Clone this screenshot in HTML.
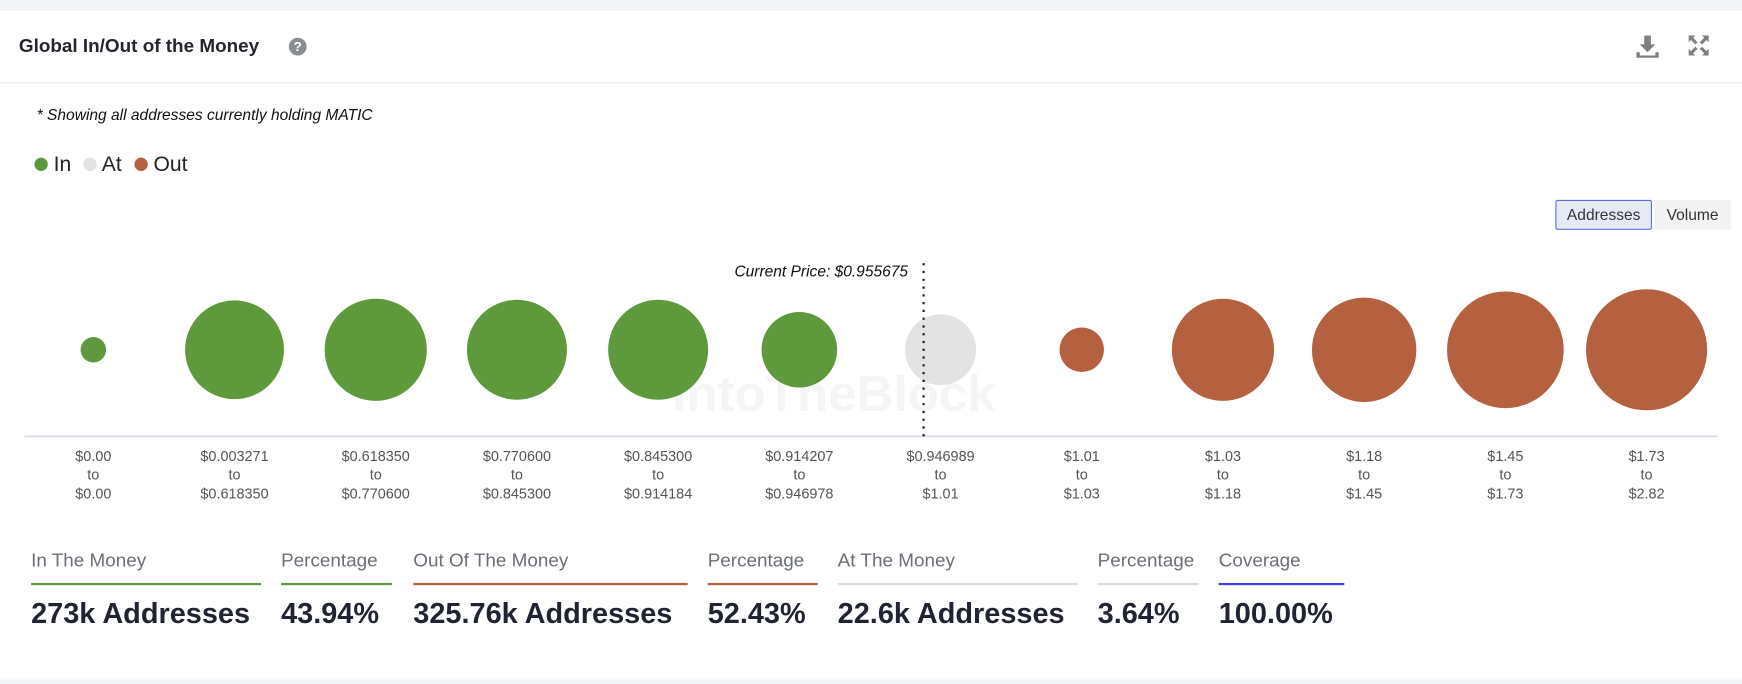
<!DOCTYPE html>
<html><head><meta charset="utf-8"><style>
html,body{margin:0;padding:0;width:1742px;height:684px;overflow:hidden;background:#f4f5f9;font-family:"Liberation Sans",sans-serif}
#wrap{position:absolute;left:0;top:0;width:1568px;height:616px;transform:scale(1.11097,1.11039);transform-origin:0 0}
.card{position:absolute;left:0;top:10px;width:1568px;height:602px;background:#fff}
.abs{position:absolute;white-space:nowrap}
.lbl{font-size:17px;color:#6b6f76}
.val{font-size:26px;color:#1f2430;font-weight:bold}
.ul{position:absolute;height:2px;top:525px}
</style></head><body>
<div id="wrap">
<div class="card"></div>
<div class="abs" style="left:17px;top:32px;font-size:17px;font-weight:bold;color:#23262d">Global In/Out of the Money</div>
<div class="abs" style="left:260px;top:34px;width:16px;height:16px;border-radius:50%;background:#8a8d93;color:#fff;font-size:12px;font-weight:bold;text-align:center;line-height:16px">?</div>
<svg class="abs" style="left:1472px;top:31px" width="22" height="22" viewBox="0 0 22 22"><path d="M8 1h6v8h4l-7 7-7-7h4z M1 16h3v3h14v-3h3v5H1z" fill="#7d7f84"/></svg>
<svg class="abs" style="left:1519px;top:31px" width="20" height="20" viewBox="0 0 20 20"><path d="M1 1h6L5 3l4 4-2 2-4-4-2 2z M19 1v6l-2-2-4 4-2-2 4-4-2-2z M1 19v-6l2 2 4-4 2 2-4 4 2 2z M19 19h-6l2-2-4-4 2-2 4 4 2-2z" fill="#7d7f84"/></svg>
<div class="abs" style="left:0;top:74px;width:1568px;height:1px;background:#e8e9ec"></div>
<div class="abs" style="left:33px;top:95px;font-size:14px;font-style:italic;color:#111">* Showing all addresses currently holding MATIC</div>
<div class="abs" style="left:31px;top:138px;font-size:19px;color:#222">
<span><span style="display:inline-block;width:12px;height:12px;border-radius:50%;background:#5e9a3c"></span> In</span>
<span style="margin-left:6px"><span style="display:inline-block;width:12px;height:12px;border-radius:50%;background:#e3e3e3"></span> At</span>
<span style="margin-left:6px"><span style="display:inline-block;width:12px;height:12px;border-radius:50%;background:#b5613f"></span> Out</span>
</div>
<div class="abs" style="left:1400px;top:180px;width:85px;height:25px;border:1px solid #5b6ee0;border-radius:2px;background:#e6e9f6;font-size:14px;color:#333;text-align:center;line-height:25px">Addresses</div>
<div class="abs" style="left:1489px;top:180px;width:69px;height:27px;background:#f3f3f3;font-size:14px;color:#333;text-align:center;line-height:27px">Volume</div>
<svg class="abs" id="chart" style="left:0;top:220px" width="1568" height="240"></svg>
<div id="stats"></div>
</div>
<script>
const categories=[["$0.00","$0.00"],["$0.003271","$0.618350"],["$0.618350","$0.770600"],["$0.770600","$0.845300"],["$0.845300","$0.914184"],["$0.914207","$0.946978"],["$0.946989","$1.01"],["$1.01","$1.03"],["$1.03","$1.18"],["$1.18","$1.45"],["$1.45","$1.73"],["$1.73","$2.82"]];
const addressesK=[3.8,57.3,61.2,58.6,58.6,33.5,29.6,11.6,61.2,63.9,79.8,86.0];
const status=["in","in","in","in","in","in","at","out","out","out","out","out"];
const currentPrice=0.955675;
const currentPriceIndex=5.88;
const colors={in:"#5e9a3c",at:"#e3e3e3",out:"#b5613f"};
const ns="http://www.w3.org/2000/svg",svg=document.getElementById("chart");
const x0=84,step=127.1,cy=95;
const xAt=i=>x0+i*step;
const rAt=v=>Math.sqrt(v/0.02894);
function mk(t,a){const e=document.createElementNS(ns,t);for(const k in a)e.setAttribute(k,a[k]);svg.appendChild(e);return e;}
let wm=mk("text",{x:605,y:150,"font-size":46,"font-weight":"bold",fill:"#000","fill-opacity":0.04});
wm.textContent="IntoTheBlock";


let ax=mk("line",{x1:22,x2:1546,y1:173,y2:173,stroke:"#d6daea","stroke-width":1.5});


addressesK.forEach((v,i)=>{
 const c=mk("circle",{cx:xAt(i),cy:cy,r:rAt(v),fill:colors[status[i]]});
 
 
 const t=mk("text",{x:xAt(i),y:195,"text-anchor":"middle","font-size":13,fill:"#555"});
 
 
 [categories[i][0],"to",categories[i][1]].forEach((s,j)=>{const ts=document.createElementNS(ns,"tspan");ts.setAttribute("x",xAt(i));ts.setAttribute("dy",j?17:0);ts.textContent=s;t.appendChild(ts);});
});
const px=xAt(currentPriceIndex);
let pl=mk("line",{x1:px,x2:px,y1:17,y2:173,stroke:"#222","stroke-width":2,"stroke-dasharray":"2 5"});


let pt=mk("text",{x:px-14,y:29,"text-anchor":"end","font-size":14,"font-style":"italic",fill:"#111"});
pt.textContent="Current Price: $"+currentPrice;


const statLabels=["In The Money","Percentage","Out Of The Money","Percentage","At The Money","Percentage","Coverage"];
const statValues=["273k Addresses","43.94%","325.76k Addresses","52.43%","22.6k Addresses","3.64%","100.00%"];
const statColors=["#5e9a3c","#5e9a3c","#b5613f","#b5613f","#dcdcdc","#dcdcdc","#3b3bf0"];
const statX=[28,253,372,637,754,988,1097],statW=[207,100,247,99,216,91,113];
const st=document.getElementById("stats");
statLabels.forEach((l,i)=>{
 const d=document.createElement("div");d.className="abs";d.style.left=statX[i]+"px";d.style.top="0";
 
 
 d.innerHTML='<div class="abs lbl" style="left:0;top:495px">'+l+'</div><div class="ul" style="left:0;width:'+statW[i]+'px;background:'+statColors[i]+'"></div><div class="abs val" style="left:0;top:537px">'+statValues[i]+'</div>';
 st.appendChild(d);
});
</script>
</body></html>
